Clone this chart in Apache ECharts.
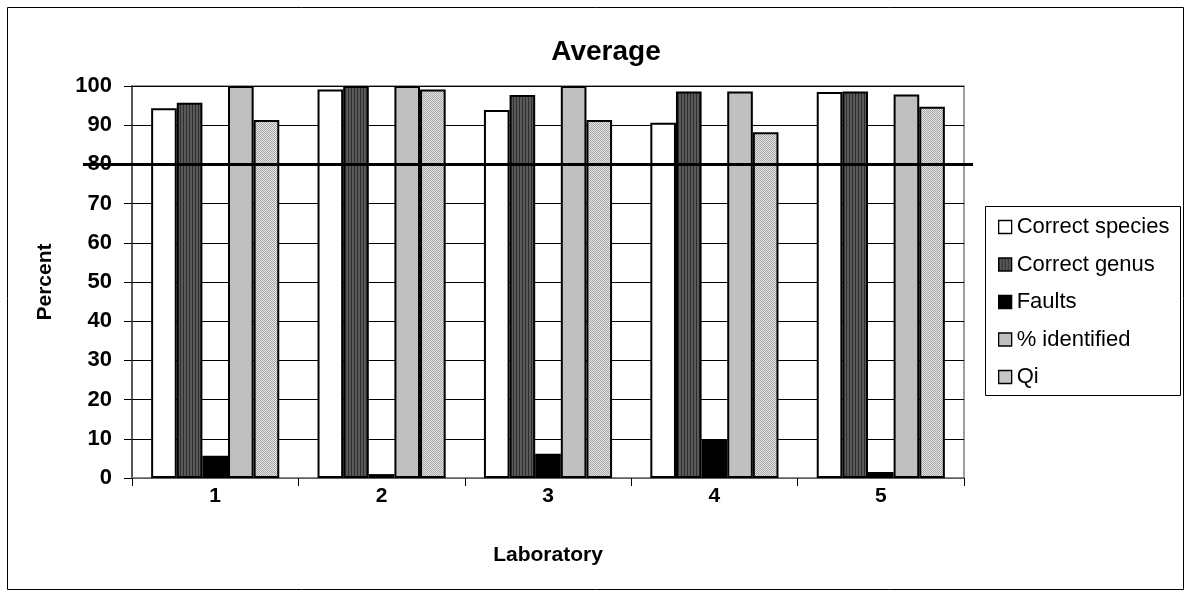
<!DOCTYPE html>
<html><head><meta charset="utf-8">
<script src="https://cdn.jsdelivr.net/npm/echarts@6/dist/echarts.min.js"></script>
<style>html,body{margin:0;padding:0;background:#fff}#c{width:1187px;height:592px}</style>
</head><body><div id="c"></div>
<script>
var categories = ['1','2','3','4','5'];
var correctSpecies = [94.3, 99.1, 93.9, 90.6, 98.5];
var correctGenus = [95.7, 100, 97.7, 98.6, 98.6];
var faults = [5.7, 1.0, 6.2, 9.9, 1.5];
var identified = [100, 100, 100, 98.6, 97.8];
var qi = [91.3, 99.1, 91.3, 88.2, 94.7];
var seriesNames = ['Correct species','Correct genus','Faults','% identified','Qi'];
var thresholdValue = 80;

function stripe(){
  var c=document.createElement('canvas');c.width=3;c.height=4;var g=c.getContext('2d');
  g.fillStyle='#5a5a5a';g.fillRect(0,0,3,4);g.fillStyle='#2e2e2e';g.fillRect(0,0,1,4);return c;
}
function dots(){
  var c=document.createElement('canvas');c.width=2;c.height=2;var g=c.getContext('2d');
  g.fillStyle='#e4e4e4';g.fillRect(0,0,2,2);g.fillStyle='#a8a8a8';g.fillRect(0,0,1,1);g.fillRect(1,1,1,1);return c;
}
var fills = ['#ffffff', {image: stripe(), repeat:'repeat'}, '#000000', '#c0c0c0', {image: dots(), repeat:'repeat'}];
var dataArr = [correctSpecies, correctGenus, faults, identified, qi];

var chart = echarts.init(document.getElementById('c'), null, {renderer:'canvas'});
var FONT = 'Liberation Sans, Arial, sans-serif';
var series = dataArr.map(function(d,i){
  return {name: seriesNames[i], type:'bar', data:d, barGap:'0%', barCategoryGap:'23%',
    itemStyle:{color:fills[i], borderColor:'#000', borderWidth:2}, emphasis:{disabled:true}, silent:true};
});
chart.setOption({
  animation:false,
  title:{text:'Average', left:601, textAlign:'center', top:33, textStyle:{fontFamily:FONT, fontSize:28, fontWeight:'bold', color:'#000'}},
  grid:{left:132, top:86, right:223, bottom:114, show:true, borderColor:'#808080', borderWidth:1.5, backgroundColor:'transparent'},
  legend:{orient:'vertical', left:993, top:210, itemWidth:13, itemHeight:13, itemGap:13.5,
    textStyle:{fontFamily:FONT, fontSize:22, lineHeight:24, color:'#000', padding:[0,0,0,0]},
    data: seriesNames.map(function(n,i){return {name:n, icon:'rect', itemStyle:{color:fills[i], borderColor:'#000', borderWidth:1.3}};})},
  xAxis:{type:'category', data:categories, name:'Laboratory', nameLocation:'middle', nameGap:67,
    nameTextStyle:{fontFamily:FONT, fontSize:21, fontWeight:'bold', color:'#000'},
    axisLine:{lineStyle:{color:'#808080', width:1.5}},
    axisTick:{show:true, interval:0, alignWithLabel:false, length:8, lineStyle:{color:'#000', width:1}},
    axisLabel:{fontFamily:FONT, fontSize:21, fontWeight:'bold', color:'#000', margin:8}},
  yAxis:{type:'value', min:0, max:100, interval:10, name:'Percent', nameLocation:'middle', nameGap:76,
    nameTextStyle:{fontFamily:FONT, fontSize:21, fontWeight:'bold', color:'#000'},
    axisLine:{show:true, lineStyle:{color:'#404040', width:1.5}},
    axisTick:{show:true, length:8, lineStyle:{color:'#000'}},
    axisLabel:{fontFamily:FONT, fontSize:22, fontWeight:'bold', color:'#000', margin:20},
    splitLine:{show:true, lineStyle:{color:'#000', width:1}}},
  series: series
});
var yPix = chart.convertToPixel({yAxisIndex:0}, thresholdValue);
chart.setOption({graphic:[
  {type:'rect', shape:{x:7.5, y:7.5, width:1176, height:582}, style:{fill:'none', stroke:'#000', lineWidth:1}, z:-1},
  {type:'line', shape:{x1:83, y1:yPix, x2:973, y2:yPix}, style:{stroke:'#000', lineWidth:3}, z:100},
  {type:'rect', shape:{x:985.5, y:206.5, width:195, height:189}, style:{fill:'none', stroke:'#000', lineWidth:1}, z:50}
]});
</script></body></html>
